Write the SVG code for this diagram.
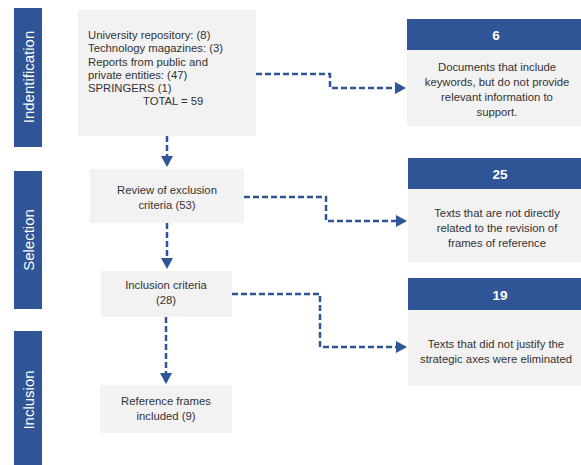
<svg xmlns="http://www.w3.org/2000/svg" width="581" height="465" viewBox="0 0 581 465">
  <defs>
    <marker id="arrow" markerWidth="4.4" markerHeight="4.8" refX="3.6" refY="2.4" orient="auto" markerUnits="strokeWidth">
      <path d="M0,0 L4.4,2.4 L0,4.8 Z" fill="#2f5597"/>
    </marker>
    <style>
      .bar { fill: #2f5597; }
      .bar-label { font-family: "Liberation Sans", Arial, sans-serif; font-size: 15px; fill: #ffffff; text-anchor: middle; dominant-baseline: central; }
      .box { fill: #f2f2f2; }
      .head { fill: #2f5597; }
      .head-label { font-family: "Liberation Sans", Arial, sans-serif; font-size: 13.5px; font-weight: bold; fill: #ffffff; text-anchor: middle; dominant-baseline: central; }
      .txt { font-family: "Liberation Sans", Arial, sans-serif; font-size: 11.3px; fill: #333333; }
      .mid { text-anchor: middle; }
      .conn { fill: none; stroke: #2f5597; stroke-width: 2.5; stroke-dasharray: 6 3; marker-end: url(#arrow); }
    </style>
  </defs>

  <!-- phase bars -->
  <g id="phase-identification">
    <rect class="bar" x="14" y="8" width="28" height="139"/>
    <text class="bar-label" transform="translate(28,77) rotate(-90)">Indentification</text>
  </g>
  <g id="phase-selection">
    <rect class="bar" x="14" y="171" width="28" height="138"/>
    <text class="bar-label" transform="translate(28,240) rotate(-90)">Selection</text>
  </g>
  <g id="phase-inclusion">
    <rect class="bar" x="14" y="331" width="28" height="140"/>
    <text class="bar-label" transform="translate(28,400) rotate(-90)">Inclusion</text>
  </g>

  <!-- main flow -->
  <g id="sources">
    <rect class="box" x="78" y="10" width="178" height="126"/>
    <text class="txt" x="88" y="39">University repository: (8)</text>
    <text class="txt" x="88" y="52">Technology magazines: (3)</text>
    <text class="txt" x="88" y="66">Reports from public and</text>
    <text class="txt" x="88" y="79">private entities: (47)</text>
    <text class="txt" x="88" y="92">SPRINGERS (1)</text>
    <text class="txt" x="143" y="105">TOTAL = 59</text>
  </g>
  <g id="review">
    <rect class="box" x="90" y="169" width="154" height="54"/>
    <text class="txt mid" x="167" y="194">Review of exclusion</text>
    <text class="txt mid" x="167" y="209">criteria (53)</text>
  </g>
  <g id="inclusion-criteria">
    <rect class="box" x="101" y="271" width="131" height="46"/>
    <text class="txt mid" x="166" y="289">Inclusion criteria</text>
    <text class="txt mid" x="166" y="304">(28)</text>
  </g>
  <g id="included">
    <rect class="box" x="100" y="385" width="132" height="48"/>
    <text class="txt mid" x="166" y="405">Reference frames</text>
    <text class="txt mid" x="166" y="420">included (9)</text>
  </g>

  <!-- excluded records -->
  <g id="excluded-6">
    <rect class="head" x="407" y="19" width="180" height="31"/>
    <text class="head-label" x="496" y="35">6</text>
    <rect class="box" x="407" y="50" width="180" height="76"/>
    <text class="txt mid" x="497" y="71">Documents that include</text>
    <text class="txt mid" x="497" y="86">keywords, but do not provide</text>
    <text class="txt mid" x="497" y="101">relevant information to</text>
    <text class="txt mid" x="497" y="116">support.</text>
  </g>
  <g id="excluded-25">
    <rect class="head" x="408" y="158" width="180" height="31"/>
    <text class="head-label" x="500" y="174">25</text>
    <rect class="box" x="408" y="189" width="180" height="73"/>
    <text class="txt mid" x="497" y="217">Texts that are not directly</text>
    <text class="txt mid" x="497" y="232">related to the revision of</text>
    <text class="txt mid" x="497" y="247">frames of reference</text>
  </g>
  <g id="excluded-19">
    <rect class="head" x="408" y="278" width="180" height="32"/>
    <text class="head-label" x="500" y="295">19</text>
    <rect class="box" x="408" y="310" width="180" height="76"/>
    <text class="txt mid" x="496" y="348">Texts that did not justify the</text>
    <text class="txt mid" x="496" y="363">strategic axes were eliminated</text>
  </g>

  <!-- connectors -->
  <g id="connectors">
    <path class="conn" d="M167,136 V165"/>
    <path class="conn" d="M167,223 V267"/>
    <path class="conn" d="M166,317 V382"/>
    <path class="conn" d="M256,74 H330 V88 H404"/>
    <path class="conn" d="M244,197 H326 V221 H405"/>
    <path class="conn" d="M232,294 H320 V347 H405"/>
  </g>
</svg>
